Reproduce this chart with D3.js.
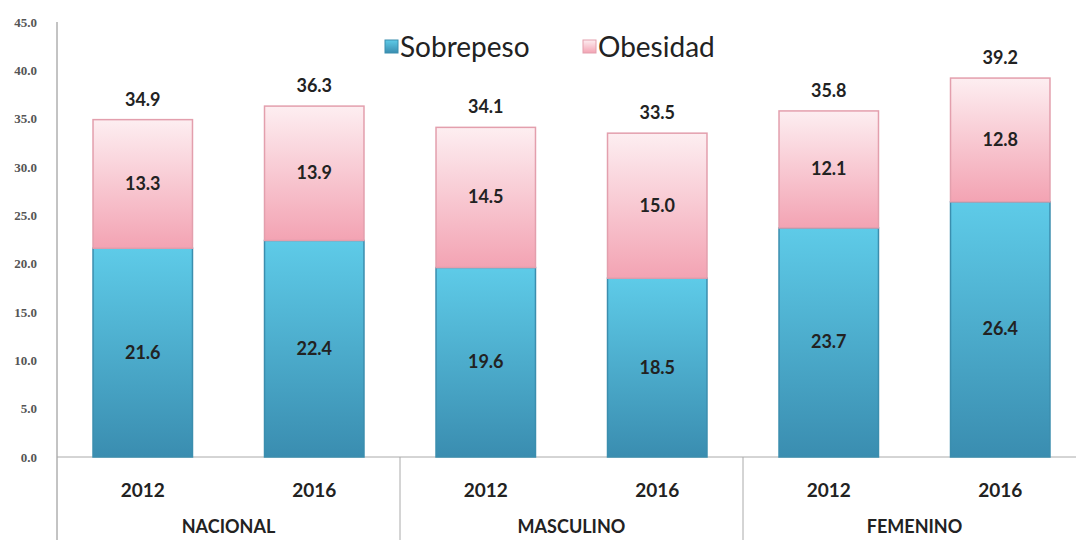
<!DOCTYPE html>
<html>
<head>
<meta charset="utf-8">
<script src="https://cdn.jsdelivr.net/npm/d3@7"></script>
<style>
  body { margin: 0; background: #fff; }
  svg { display: block; font-family: Lato, "Open Sans", sans-serif; }
  .ytick text { font-family: "Liberation Serif", "DejaVu Serif", serif; }
</style>
</head>
<body>
<div id="canvas"></div>
<script>
"use strict"

/* data */
let groups = ["NACIONAL", "MASCULINO", "FEMENINO"];
let years = ["2012", "2016"];
let sobrepeso = [21.6, 22.4, 19.6, 18.5, 23.7, 26.4];
let obesidad = [13.3, 13.9, 14.5, 15.0, 12.1, 12.8];
let totals = [34.9, 36.3, 34.1, 33.5, 35.8, 39.2];
let yTicks = [0, 5, 10, 15, 20, 25, 30, 35, 40, 45];

let width = 1076, height = 540;

let drawing = d3.select("#canvas")
  .append("svg")
  .attr("width", width)
  .attr("height", height);

/* gradients */
let defs = drawing.append("defs");
let blue = defs.append("linearGradient").attr("id", "gBlue")
  .attr("x1", 0).attr("y1", 0).attr("x2", 0).attr("y2", 1);
blue.append("stop").attr("offset", "0%").attr("stop-color", "#5ecbe8");
blue.append("stop").attr("offset", "100%").attr("stop-color", "#3a8db0");
let pink = defs.append("linearGradient").attr("id", "gPink")
  .attr("x1", 0).attr("y1", 0).attr("x2", 0).attr("y2", 1);
pink.append("stop").attr("offset", "0%").attr("stop-color", "#fdeef1");
pink.append("stop").attr("offset", "100%").attr("stop-color", "#f3a3b3");

/* scales */
let plotLeft = 57, plotRight = 1086;
let y = d3.scaleLinear().domain([0, 45]).range([457, 22]);

let keys = [];
groups.forEach(g => years.forEach(yr => keys.push(g + "|" + yr)));

let x = d3.scaleBand()
  .domain(keys)
  .range([plotLeft, plotRight])
  .paddingInner(0.42)
  .paddingOuter(0.21);

let rows = keys.map((k, i) => ({
  key: k,
  year: k.split("|")[1],
  sob: sobrepeso[i],
  obe: obesidad[i],
  total: totals[i]
}));

/* y axis */
let yAxis = drawing.append("g")
  .attr("class", "ytick")
  .attr("transform", "translate(" + plotLeft + ",0)")
  .call(d3.axisLeft(y).tickValues(yTicks).tickFormat(d3.format(".1f")).tickSize(0).tickPadding(20));
yAxis.attr("font-family", null).attr("font-size", 13);
yAxis.select(".domain").attr("stroke", "#888").attr("d", "M0," + y(45) + "V" + height);
yAxis.selectAll("text")
  .attr("font-weight", "bold")
  .attr("fill", "#555");

/* x axis baseline and group dividers */
drawing.append("line")
  .attr("x1", plotLeft).attr("x2", width)
  .attr("y1", y(0)).attr("y2", y(0))
  .attr("stroke", "#aaa");

let groupWidth = (plotRight - plotLeft) / groups.length;
groups.forEach((g, i) => {
  if (i > 0) {
    drawing.append("line")
      .attr("x1", plotLeft + i * groupWidth).attr("x2", plotLeft + i * groupWidth)
      .attr("y1", y(0)).attr("y2", height)
      .attr("stroke", "#aaa");
  }
  drawing.append("text")
    .attr("x", plotLeft + (i + 0.5) * groupWidth)
    .attr("y", 533)
    .attr("text-anchor", "middle")
    .attr("font-size", 18)
    .attr("font-weight", "bold")
    .attr("fill", "#222")
    .text(g);
});

/* bars */
let bars = drawing.append("g");
bars.selectAll(".sob").data(rows).join("rect")
  .attr("x", d => x(d.key))
  .attr("width", x.bandwidth())
  .attr("y", d => y(d.sob))
  .attr("height", d => y(0) - y(d.sob))
  .attr("fill", "url(#gBlue)")
  .attr("stroke", "#3b8eae")
  .attr("stroke-width", 1.5);

bars.selectAll(".obe").data(rows).join("rect")
  .attr("x", d => x(d.key))
  .attr("width", x.bandwidth())
  .attr("y", d => y(d.sob + d.obe))
  .attr("height", d => y(d.sob) - y(d.sob + d.obe))
  .attr("fill", "url(#gPink)")
  .attr("stroke", "#e39fad")
  .attr("stroke-width", 1.5);

/* value labels */
let labels = drawing.append("g")
  .attr("font-size", 18)
  .attr("font-weight", "bold")
  .attr("fill", "#222")
  .attr("text-anchor", "middle");

labels.selectAll(".vs").data(rows).join("text")
  .attr("x", d => x(d.key) + x.bandwidth() / 2)
  .attr("y", d => y(d.sob / 2) + 6)
  .text(d => d.sob.toFixed(1));

labels.selectAll(".vo").data(rows).join("text")
  .attr("x", d => x(d.key) + x.bandwidth() / 2)
  .attr("y", d => y(d.sob + d.obe / 2) + 6)
  .text(d => d.obe.toFixed(1));

labels.selectAll(".vt").data(rows).join("text")
  .attr("x", d => x(d.key) + x.bandwidth() / 2)
  .attr("y", d => y(d.total) - 14)
  .text(d => d.total.toFixed(1));

labels.selectAll(".yr").data(rows).join("text")
  .attr("x", d => x(d.key) + x.bandwidth() / 2)
  .attr("y", 497)
  .attr("font-size", 19)
  .text(d => d.year);

/* legend */
let legend = drawing.append("g").attr("font-size", 28).attr("fill", "#222");
legend.append("rect").attr("x", 385).attr("y", 40).attr("width", 13).attr("height", 13)
  .attr("fill", "url(#gBlue)").attr("stroke", "#3b8eae");
legend.append("text").attr("x", 400).attr("y", 57).text("Sobrepeso");
legend.append("rect").attr("x", 583).attr("y", 40).attr("width", 13).attr("height", 13)
  .attr("fill", "url(#gPink)").attr("stroke", "#e39fad");
legend.append("text").attr("x", 598).attr("y", 57).text("Obesidad");
</script>
</body>
</html>
